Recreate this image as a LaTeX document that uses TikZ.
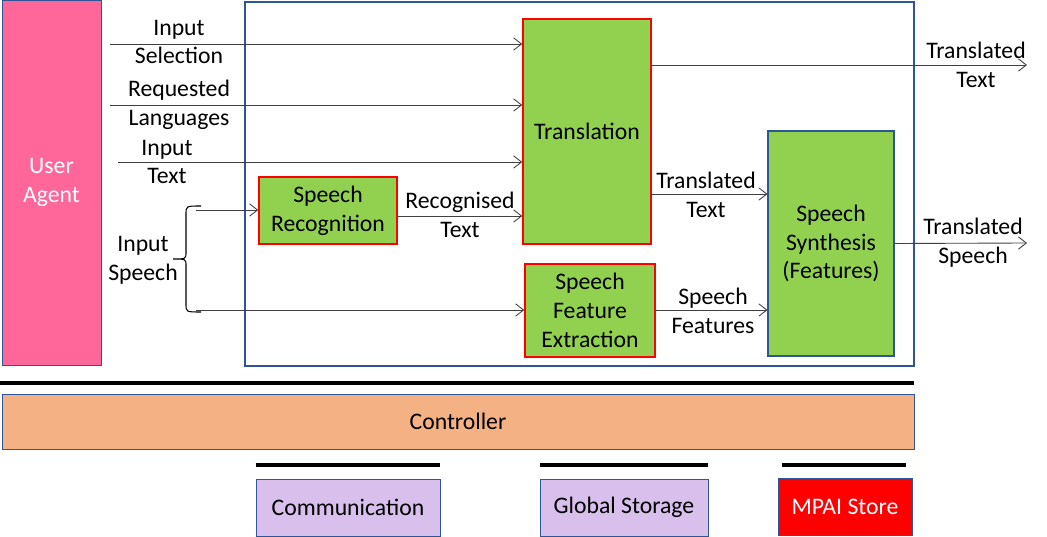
\documentclass[tikz,border=0pt]{standalone}
\usepackage{fontspec}
\setmainfont{Carlito}
\usepackage{xcolor}
\usetikzlibrary{positioning}
\usetikzlibrary{arrows.meta}

\definecolor{agentpink}{RGB}{255,102,153}
\definecolor{aimgreen}{RGB}{146,208,80}
\definecolor{framblue}{RGB}{47,85,151}
\definecolor{ctrlorange}{RGB}{244,177,131}
\definecolor{svclilac}{RGB}{216,191,236}

\begin{document}
\begin{tikzpicture}[x=0.02cm, y=-0.02cm, >={Straight Barb[length=4.5pt,width=7pt]},
    font=\fontsize{13.5}{16.4}\selectfont,
    aim/.style={draw=red, line width=0.9pt, fill=aimgreen, align=center, inner sep=0pt},
    svc/.style={draw=framblue, fill=svclilac, align=center, inner sep=0pt,
      minimum height=1.14cm},
    lbl/.style={align=center, inner sep=0pt},
    conn/.style={->, draw=black!75, line width=0.5pt}]
    \useasboundingbox (0,0) rectangle (1047,537);

    % User Agent and AIW frame
    \node[draw=framblue, fill=agentpink, text=white, align=center,
      minimum width=1.98cm, minimum height=7.3cm] (ua) at (51.5,182.5) {User\\Agent};
    \draw[framblue, line width=0.6pt] (245,2) rectangle (914,366);

    % AIMs
    \node[aim, minimum width=2.56cm, minimum height=4.5cm] (tr) at (587,131.5) {Translation};
    \node[aim, minimum width=2.76cm, minimum height=1.34cm] (sr) at (328,210.5) {Speech\\Recognition};
    \node[aim, minimum width=2.6cm, minimum height=1.86cm] (fe) at (590,310.5) {Speech\\Feature\\Extraction};
    \node[aim, draw=framblue, line width=0.6pt, minimum width=2.52cm, minimum height=4.5cm] (ss) at (831,243.5) {Speech\\Synthesis\\(Features)};

    % Inputs
    \coordinate (isel) at (110,44);
    \coordinate (ilang) at (110,105);
    \coordinate (itxt) at (118,162);
    \coordinate (sp1) at (196,210);
    \coordinate (sp2) at (196,310);
    \node[lbl] (lsel) at (179,42) {Input\\Selection};
    \node[lbl] (llang) at (179,105) {Requested\\Languages};
    \node[lbl] (ltxt) at (167,162) {Input\\Text};
    \node[lbl] (lsp) at (143,260) {Input\\Speech};
    \draw[conn] (isel) -- (isel -| tr.west);
    \draw[conn] (ilang) -- (ilang -| tr.west);
    \draw[conn] (itxt) -- (itxt -| tr.west);
    % brace
    \draw[line width=0.6pt] (201,206) .. controls (186,206) .. (186,214) -- (186,252)
      .. controls (186,259) .. (173,259) .. controls (186,259) .. (186,266) -- (186,304)
      .. controls (186,312) .. (201,312);
    \draw[conn] (sp1) -- (sp1 -| sr.west);
    \draw[conn] (sp2) -- (sp2 -| fe.west);

    % Internal connections
    \draw[conn] ([yshift=-0.11cm]sr.east) -- ([yshift=-0.11cm]sr.east -| tr.west);
    \node[lbl] (lrec) at (460,215) {Recognised\\Text};
    \coordinate (ttx) at (651,194);
    \draw[conn] (ttx) -- (ttx -| ss.west);
    \node[lbl] (lttx) at (706,195) {Translated\\Text};
    \draw[conn] (fe.east |- sp2) -- (sp2 -| ss.west);
    \node[lbl] (lfeat) at (713,311) {Speech\\Features};

    % Outputs
    \coordinate (otxt) at (1027,65);
    \coordinate (osp) at (1027,243);
    \draw[conn] (tr.east |- otxt) -- (otxt);
    \node[lbl] (lotxt) at (976,65) {Translated\\Text};
    \draw[conn] (ss.east) -- (osp);
    \node[lbl] (losp) at (973,243) {Translated\\Speech};

    % Controller and services
    \draw[line width=2.2pt] (0,383) -- (914,383);
    \node[draw=framblue, fill=ctrlorange, minimum width=18.24cm, minimum height=1.1cm,
      inner sep=0pt] (ctrl) at (458,421.5) {Controller};
    \node[svc, minimum width=3.68cm] (comm) at (348,507.5) {Communication};
    \node[svc, minimum width=3.36cm] (gs) at (624,507.5) {Global Storage};
    \node[svc, fill=red, text=white, minimum width=2.68cm] (ms) at (845,506.5) {MPAI Store};
    \draw[line width=2.2pt] (comm.west |- 0,465) -- (comm.east |- 0,465);
    \draw[line width=2.2pt] (gs.west |- 0,465) -- (gs.east |- 0,465);
    \draw[line width=2.2pt] (782,465) -- (906,465);
\end{tikzpicture}
\end{document}
